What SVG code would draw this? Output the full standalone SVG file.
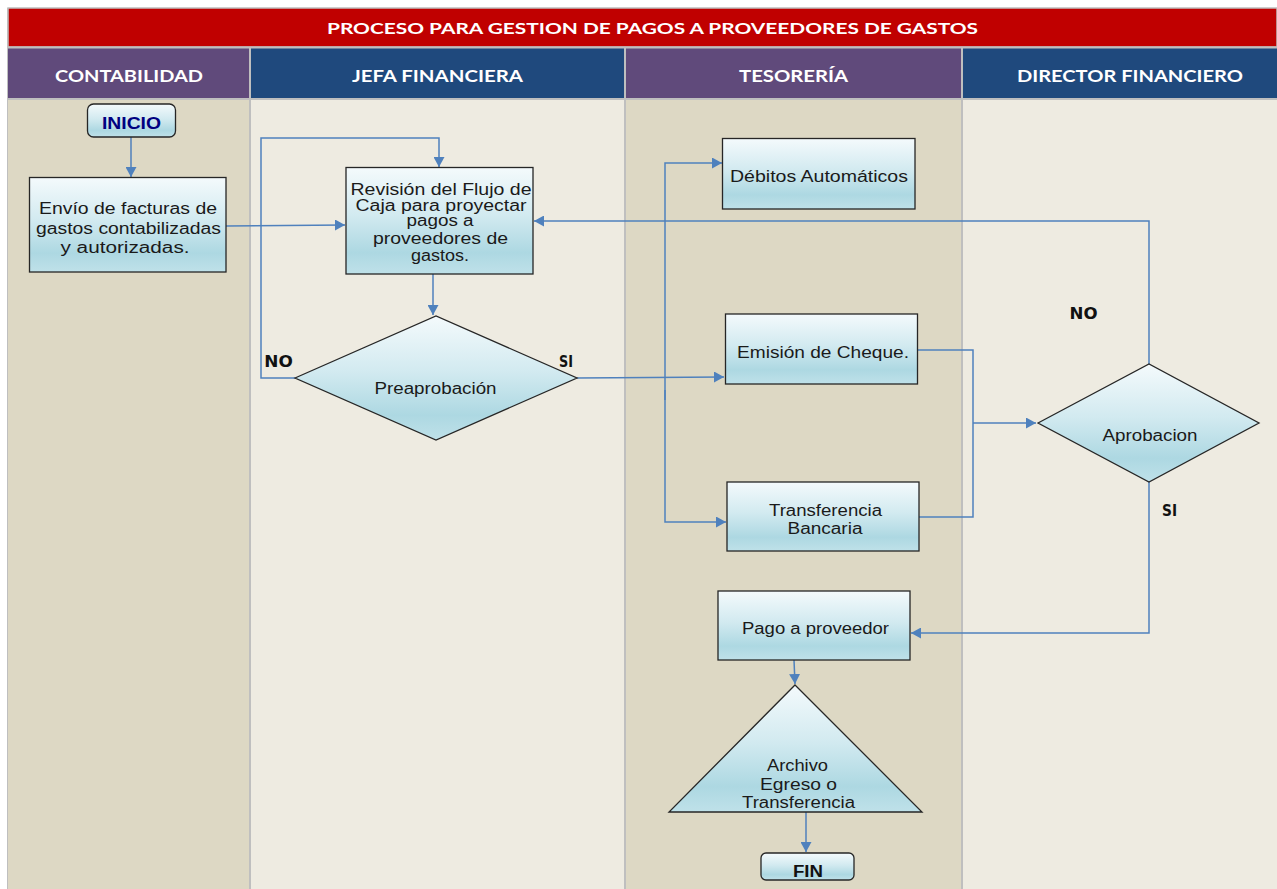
<svg xmlns="http://www.w3.org/2000/svg" width="1277" height="889" viewBox="0 0 1277 889">
  <defs>
    <linearGradient id="shapeFill" x1="0" y1="0" x2="0" y2="1">
      <stop offset="0" stop-color="#F4FAFC"/>
      <stop offset="0.45" stop-color="#D2EAF0"/>
      <stop offset="0.8" stop-color="#ADD8E2"/>
      <stop offset="1" stop-color="#BFE1E9"/>
    </linearGradient>
    <marker id="arrow" markerUnits="userSpaceOnUse" markerWidth="11" markerHeight="11" refX="10" refY="5.5" orient="auto">
      <path d="M0,0 L10,5.5 L0,11 z" fill="#4F81BD"/>
    </marker>
    <style>
      .title { font-family: Lato, "Open Sans", sans-serif; font-weight: bold; font-size: 16px; fill: #FFFFFF; }
      .head { font-family: Lato, "Open Sans", sans-serif; font-weight: bold; font-size: 17.5px; fill: #FFFFFF; }
      .shape { fill: url(#shapeFill); stroke: #262626; stroke-width: 1.3; }
      .txt { font-family: "Liberation Sans", Arial, sans-serif; font-size: 16px; fill: #1A1A1A; text-anchor: middle; }
      .term { font-family: "Liberation Sans", Arial, sans-serif; font-weight: bold; font-size: 16px; text-anchor: middle; }
      .lbl { font-family: "DejaVu Sans", Verdana, sans-serif; font-weight: bold; font-size: 15.5px; fill: #111111; text-anchor: middle; }
      .conn { fill: none; stroke: #4F81BD; stroke-width: 1.5; }
      .sep { stroke: #BFBFBF; stroke-width: 2; }
    </style>
  </defs>

  <!-- page background -->
  <rect x="0" y="0" width="1277" height="889" fill="#FFFFFF"/>

  <!-- swimlane bodies -->
  <g id="lanes">
    <rect x="8" y="99" width="242" height="790" fill="#DDD8C4"/>
    <rect x="250" y="99" width="375" height="790" fill="#EEEBE1"/>
    <rect x="625" y="99" width="337" height="790" fill="#DDD8C4"/>
    <rect x="962" y="99" width="315" height="790" fill="#EEEBE1"/>
  </g>

  <!-- title bar and lane headers -->
  <g id="header">
    <rect x="8" y="8" width="1269" height="39" fill="#C00000" stroke="#BFBFBF" stroke-width="1.5"/>
    <text class="title" x="652.5" y="34" text-anchor="middle" textLength="651" lengthAdjust="spacingAndGlyphs">PROCESO PARA GESTION DE PAGOS A PROVEEDORES DE GASTOS</text>
    <rect x="8" y="48" width="242" height="51" fill="#604A7B"/>
    <rect x="250" y="48" width="375" height="51" fill="#1F497D"/>
    <rect x="625" y="48" width="337" height="51" fill="#604A7B"/>
    <rect x="962" y="48" width="315" height="51" fill="#1F497D"/>
    <text class="head" x="129" y="82" text-anchor="middle" textLength="148" lengthAdjust="spacingAndGlyphs">CONTABILIDAD</text>
    <text class="head" x="437.5" y="82" text-anchor="middle" textLength="171" lengthAdjust="spacingAndGlyphs">JEFA FINANCIERA</text>
    <text class="head" x="793.5" y="82" text-anchor="middle" textLength="109" lengthAdjust="spacingAndGlyphs">TESORERÍA</text>
    <text class="head" x="1130" y="82" text-anchor="middle" textLength="226" lengthAdjust="spacingAndGlyphs">DIRECTOR FINANCIERO</text>
    <line class="sep" x1="8" y1="47.5" x2="1277" y2="47.5"/>
    <line class="sep" x1="8" y1="99" x2="1277" y2="99"/>
    <line class="sep" x1="250" y1="48" x2="250" y2="889"/>
    <line class="sep" x1="625" y1="48" x2="625" y2="889"/>
    <line class="sep" x1="962" y1="48" x2="962" y2="889"/>
    <line x1="7.5" y1="8" x2="7.5" y2="889" stroke="#BFBFBF" stroke-width="1"/>
  </g>

  <!-- connectors -->
  <g id="connectors">
    <path class="conn" d="M131 137 V177" marker-end="url(#arrow)"/>
    <path class="conn" d="M226 226 L345 225" marker-end="url(#arrow)"/>
    <path class="conn" d="M433 274 V315" marker-end="url(#arrow)"/>
    <path class="conn" d="M295 378 H261 V138 H439 V167" marker-end="url(#arrow)"/>
    <path class="conn" d="M577 378 L724 377" marker-end="url(#arrow)"/>
    <path class="conn" d="M665 400 V163 H722" marker-end="url(#arrow)"/>
    <path class="conn" d="M665 390 V522 H726" marker-end="url(#arrow)"/>
    <path class="conn" d="M918 350 H973 V517 H919"/>
    <path class="conn" d="M973 423 H1036" marker-end="url(#arrow)"/>
    <path class="conn" d="M1149 364 V221 H534" marker-end="url(#arrow)"/>
    <path class="conn" d="M1149 482 V633 H911" marker-end="url(#arrow)"/>
    <path class="conn" d="M794 660 L795 684" marker-end="url(#arrow)"/>
    <path class="conn" d="M806 812 V852" marker-end="url(#arrow)"/>
  </g>

  <!-- branch labels -->
  <g id="labels">
    <text class="lbl" x="278.5" y="367" textLength="28.5" lengthAdjust="spacingAndGlyphs">NO</text>
    <text class="lbl" x="566" y="367" textLength="14" lengthAdjust="spacingAndGlyphs">SI</text>
    <text class="lbl" x="1083.5" y="318.5" textLength="28" lengthAdjust="spacingAndGlyphs">NO</text>
    <text class="lbl" x="1169.5" y="516" textLength="15" lengthAdjust="spacingAndGlyphs">SI</text>
  </g>

  <g id="inicio">
    <rect class="shape" x="87.5" y="104" width="88" height="33" rx="6"/>
    <text class="term" x="131.5" y="128.5" fill="#000080" textLength="59" lengthAdjust="spacingAndGlyphs">INICIO</text>
  </g>

  <g id="envio-facturas">
    <rect class="shape" x="29.5" y="177.5" width="196.5" height="94.5"/>
    <text class="txt" x="128" y="213.5" textLength="178" lengthAdjust="spacingAndGlyphs">Envío de facturas de</text>
    <text class="txt" x="128.5" y="233.5" textLength="185" lengthAdjust="spacingAndGlyphs">gastos contabilizadas</text>
    <text class="txt" x="125" y="252.5" textLength="129" lengthAdjust="spacingAndGlyphs">y autorizadas.</text>
  </g>

  <g id="revision-flujo">
    <rect class="shape" x="346" y="167.5" width="187" height="106.5"/>
    <text class="txt" x="441" y="195" textLength="181" lengthAdjust="spacingAndGlyphs">Revisión del Flujo de</text>
    <text class="txt" x="441" y="211" textLength="171" lengthAdjust="spacingAndGlyphs">Caja para proyectar</text>
    <text class="txt" x="440" y="225.5" textLength="67" lengthAdjust="spacingAndGlyphs">pagos a</text>
    <text class="txt" x="440.5" y="243.5" textLength="135" lengthAdjust="spacingAndGlyphs">proveedores de</text>
    <text class="txt" x="440" y="260.5" textLength="58" lengthAdjust="spacingAndGlyphs">gastos.</text>
  </g>

  <g id="preaprobacion">
    <polygon class="shape" points="295,378 436,316 577,378 436,440"/>
    <text class="txt" x="435.5" y="394" textLength="122" lengthAdjust="spacingAndGlyphs">Preaprobación</text>
  </g>

  <g id="debitos">
    <rect class="shape" x="722.5" y="138.5" width="192.5" height="70.5"/>
    <text class="txt" x="819" y="182" textLength="178" lengthAdjust="spacingAndGlyphs">Débitos Automáticos</text>
  </g>

  <g id="emision-cheque">
    <rect class="shape" x="725.5" y="314" width="192" height="70"/>
    <text class="txt" x="823" y="358" textLength="172" lengthAdjust="spacingAndGlyphs">Emisión de Cheque.</text>
  </g>

  <g id="transferencia">
    <rect class="shape" x="727" y="482" width="192" height="69"/>
    <text class="txt" x="825.5" y="516" textLength="113" lengthAdjust="spacingAndGlyphs">Transferencia</text>
    <text class="txt" x="825" y="534" textLength="75" lengthAdjust="spacingAndGlyphs">Bancaria</text>
  </g>

  <g id="aprobacion">
    <polygon class="shape" points="1038,423 1149,364 1259,423 1149,482"/>
    <text class="txt" x="1150" y="440.5" textLength="95" lengthAdjust="spacingAndGlyphs">Aprobacion</text>
  </g>

  <g id="pago-proveedor">
    <rect class="shape" x="718" y="591" width="192" height="69"/>
    <text class="txt" x="815.5" y="634" textLength="147" lengthAdjust="spacingAndGlyphs">Pago a proveedor</text>
  </g>

  <g id="archivo">
    <polygon class="shape" points="795,685 922,812 669,812"/>
    <text class="txt" x="797.5" y="771" textLength="61" lengthAdjust="spacingAndGlyphs">Archivo</text>
    <text class="txt" x="798.5" y="790" textLength="77" lengthAdjust="spacingAndGlyphs">Egreso o</text>
    <text class="txt" x="798.5" y="808" textLength="113" lengthAdjust="spacingAndGlyphs">Transferencia</text>
  </g>

  <g id="fin">
    <rect class="shape" x="761" y="853" width="93" height="27" rx="5"/>
    <text class="term" x="808" y="877" fill="#111111" textLength="30" lengthAdjust="spacingAndGlyphs">FIN</text>
  </g>
</svg>
